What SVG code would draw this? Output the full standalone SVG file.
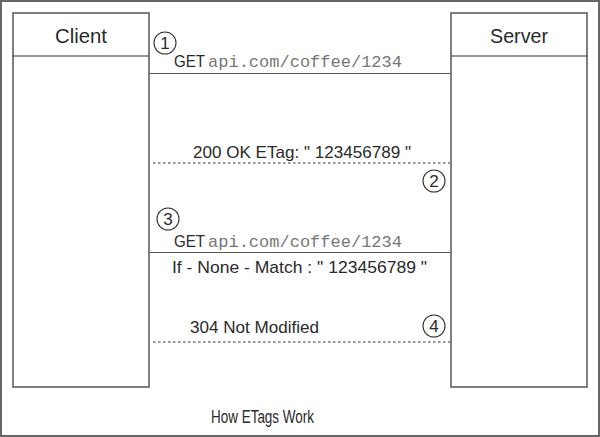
<svg xmlns="http://www.w3.org/2000/svg" width="600" height="437" viewBox="0 0 600 437">
<style>
.box{fill:#fff;stroke:#555;stroke-width:1.5}
.div{stroke:#333;stroke-width:1.2}
.sans{font-family:"Liberation Sans Narrow","Liberation Sans",Arial,sans-serif;fill:#2a2a2a}
.mono{font-family:"Liberation Mono","Courier New",monospace;fill:#777}
.solid{stroke:#555;stroke-width:1.2}
.dot{stroke:#333;stroke-width:1.2;stroke-dasharray:2.5 2.5}
.num{fill:none;stroke:#333;stroke-width:1.1}
</style>
<rect x="0" y="0" width="600" height="437" fill="#fff"/>
<rect x="1" y="1" width="598" height="435" fill="none" stroke="#666" stroke-width="2"/>
<g id="client">
<rect class="box" x="13" y="13" width="136" height="374"/>
<line class="div" x1="13" y1="56" x2="149" y2="56"/>
<text class="sans" x="55" y="43" font-size="21" textLength="52" lengthAdjust="spacingAndGlyphs">Client</text>
</g>
<g id="server">
<rect class="box" x="451" y="13" width="136" height="374"/>
<line class="div" x1="451" y1="56" x2="587" y2="56"/>
<text class="sans" x="490" y="43" font-size="21" textLength="58" lengthAdjust="spacingAndGlyphs">Server</text>
</g>
<g id="connectors">
<line class="solid" x1="150" y1="73.5" x2="450" y2="73.5"/>
<line class="dot" x1="153" y1="163" x2="450" y2="163"/>
<line class="solid" x1="150" y1="252.5" x2="450" y2="252.5"/>
<line class="dot" x1="153" y1="342" x2="450" y2="342"/>
</g>
<g id="msg1">
<circle class="num" cx="165" cy="43" r="11"/>
<text class="sans" x="165" y="49" font-size="17" text-anchor="middle">1</text>
<text class="sans" x="174" y="67" font-size="16.5" textLength="31" lengthAdjust="spacingAndGlyphs">GET</text>
<text class="mono" x="208" y="67" font-size="17" textLength="194" lengthAdjust="spacingAndGlyphs">api.com/coffee/1234</text>
</g>
<g id="msg2">
<text class="sans" x="193" y="158" font-size="17" textLength="218" lengthAdjust="spacingAndGlyphs">200 OK ETag: " 123456789 "</text>
<circle class="num" cx="434" cy="181" r="11"/>
<text class="sans" x="434" y="187" font-size="17" text-anchor="middle">2</text>
</g>
<g id="msg3">
<circle class="num" cx="168" cy="219" r="11"/>
<text class="sans" x="168" y="225" font-size="17" text-anchor="middle">3</text>
<text class="sans" x="174" y="247" font-size="16.5" textLength="31" lengthAdjust="spacingAndGlyphs">GET</text>
<text class="mono" x="208" y="247" font-size="17" textLength="194" lengthAdjust="spacingAndGlyphs">api.com/coffee/1234</text>
<text class="sans" x="172" y="273" font-size="17" textLength="255" lengthAdjust="spacingAndGlyphs">If - None - Match : " 123456789 "</text>
</g>
<g id="msg4">
<text class="sans" x="190" y="333" font-size="16.5" textLength="129" lengthAdjust="spacingAndGlyphs">304 Not Modified</text>
<circle class="num" cx="434" cy="326" r="11"/>
<text class="sans" x="434" y="332" font-size="17" text-anchor="middle">4</text>
</g>
<text class="sans" x="211" y="423" font-size="17.5" textLength="103" lengthAdjust="spacingAndGlyphs">How ETags Work</text>
</svg>
